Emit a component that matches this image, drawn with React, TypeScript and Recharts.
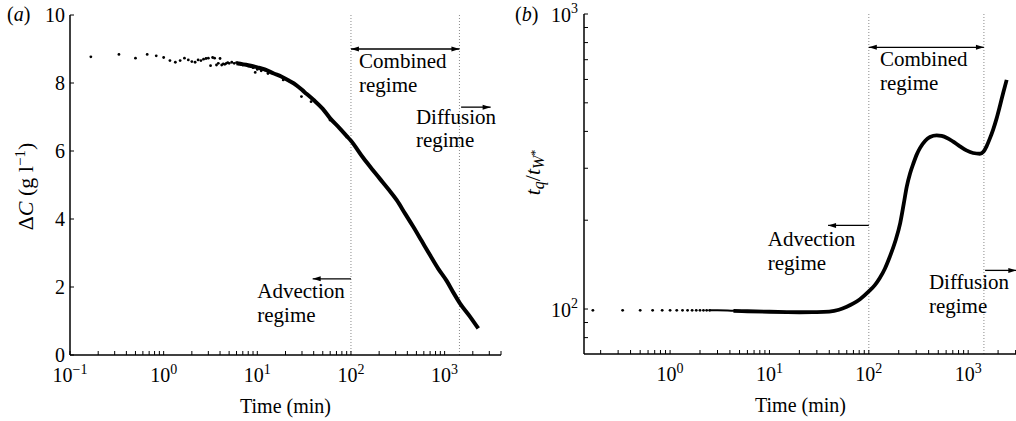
import {
  ComposedChart,
  Line,
  Scatter,
  XAxis,
  YAxis,
  ReferenceLine,
  ReferenceDot,
} from "recharts";

const FONT = "Liberation Serif, Times New Roman, serif";

// ---- panel (a): concentration difference vs time ----
const aDotT = [
  0.167, 0.333, 0.5, 0.667, 0.833, 1.0, 1.167, 1.333, 1.5, 1.667, 1.833, 2.0,
  2.167, 2.333, 2.5, 2.667, 2.833, 3.0, 3.167, 3.333, 3.5, 3.667, 3.833, 4.0,
  4.167, 4.333, 4.5, 4.667, 4.833, 5.0, 5.333, 5.667, 6.0, 6.333, 6.667, 7.0,
  7.5, 8.0, 8.5, 9.0, 9.5, 10.0, 10.5, 11.0, 12.0, 13.0, 18.9, 29.6, 37.5, 59.7,
];
const aDotV = [
  8.77, 8.84, 8.73, 8.84, 8.8, 8.75, 8.66, 8.61, 8.66, 8.73, 8.68, 8.63,
  8.61, 8.68, 8.66, 8.7, 8.72, 8.73, 8.51, 8.75, 8.73, 8.53, 8.58, 8.72,
  8.53, 8.56, 8.55, 8.58, 8.6, 8.58, 8.61, 8.58, 8.6, 8.56, 8.55, 8.53,
  8.55, 8.5, 8.48, 8.45, 8.31, 8.4, 8.44, 8.36, 8.38, 8.28, 8.09, 7.6, 7.45, 6.91,
];
const aLineT = [
  6, 8, 10, 12, 15, 18, 22, 26, 32, 40, 50, 60, 75, 90, 100, 135, 170, 204,
  250, 307, 380, 463, 570, 698, 850, 1052, 1250, 1458, 1866, 2290,
];
const aLineV = [
  8.58, 8.52, 8.46, 8.4, 8.28, 8.19, 8.06, 7.94, 7.73, 7.5, 7.24, 6.96, 6.68,
  6.44, 6.3, 5.8, 5.45, 5.18, 4.88, 4.56, 4.15, 3.77, 3.35, 2.94, 2.55, 2.18,
  1.82, 1.52, 1.13, 0.78,
];
const aXTicks = [
  0.1, 0.2, 0.3, 0.4, 0.5, 0.6, 0.7, 0.8, 0.9, 1, 2, 3, 4, 5, 6, 7, 8, 9, 10,
  20, 30, 40, 50, 60, 70, 80, 90, 100, 200, 300, 400, 500, 600, 700, 800, 900,
  1000, 2000, 3000, 4000,
];
const aYTicks = [0, 2, 4, 6, 8, 10];

// ---- panel (b): t_q / t_W* vs time ----
const bDotT = [
  0.167, 0.333, 0.5, 0.667, 0.833, 1.0, 1.167, 1.333, 1.5, 1.667, 1.833, 2.0,
  2.167, 2.333, 2.5,
];
const bDotV = [99, 99, 99, 99, 99, 99, 99, 99, 99, 99, 99, 99, 99, 99, 99];
const bThinT = [2.5, 3, 4.34, 6];
const bThinV = [99, 99, 98.6, 98.3];
const bLineT = [
  4.34, 6, 10, 15, 20, 30, 40, 50, 60, 70, 81.5, 100, 115, 129, 145, 163, 185,
  207, 225, 241, 260, 282, 305, 328, 370, 413, 482, 540, 612, 700, 826, 960,
  1120, 1310, 1430, 1530, 1650, 1780, 1930, 2080, 2250, 2440,
];
const bLineV = [
  98.6, 98.3, 97.9, 97.6, 97.5, 97.6, 98.0, 99.4, 101.8, 104.5, 108, 114.7,
  120.5, 127.4, 137, 150.7, 170, 195.6, 228, 260, 288, 312.6, 335, 351.6, 372,
  383, 388, 386, 380, 370, 356, 345, 338, 336, 342, 356, 378, 405, 442, 486,
  540, 598,
];
const bXTicks = [
  0.2, 0.3, 0.4, 0.5, 0.6, 0.7, 0.8, 0.9, 1, 2, 3, 4, 5, 6, 7, 8, 9, 10, 20, 30,
  40, 50, 60, 70, 80, 90, 100, 200, 300, 400, 500, 600, 700, 800, 900, 1000,
  2000, 3000,
];
const bYTicks = [80, 90, 100, 200, 300, 400, 500, 600, 700, 800, 900, 1000];

const zip = (ts: number[], vs: number[]) => ts.map((t, i) => ({ t, v: vs[i] }));

const aDots = zip(aDotT, aDotV);
const aLine = zip(aLineT, aLineV);
const bDots = zip(bDotT, bDotV);
const bThin = zip(bThinT, bThinV);
const bLine = zip(bLineT, bLineV);

const isPow10 = (v: number) => Math.abs(Math.log10(v) - Math.round(Math.log10(v))) < 1e-6;
const expText = (v: number) => {
  const e = Math.round(Math.log10(v));
  return e < 0 ? "\u2212" + -e : String(e);
};

const txt = { fontFamily: FONT, fill: "#000" };

const noTick = () => <g />;

const powTickX = (props: any) => {
  const { x, y, payload } = props;
  if (!isPow10(payload.value)) return <g />;
  return (
    <text x={x} y={y + 27} textAnchor="middle" style={txt} fontSize={20}>
      10
      <tspan dy={-8} fontSize={14}>
        {expText(payload.value)}
      </tspan>
    </text>
  );
};

const powTickY = (props: any) => {
  const { x, y, payload } = props;
  if (!isPow10(payload.value)) return <g />;
  return (
    <text x={x} y={y + 8} textAnchor="end" style={txt} fontSize={20}>
      10
      <tspan dy={-9} fontSize={14}>
        {expText(payload.value)}
      </tspan>
    </text>
  );
};

const linTickY = (props: any) => {
  const { x, y, payload } = props;
  return (
    <text x={x} y={y + 7} textAnchor="end" style={txt} fontSize={20}>
      {payload.value}
    </text>
  );
};

const arrowShape = (both: boolean) => (p: any) => {
  const { x1, y1, x2, y2 } = p;
  const len = Math.hypot(x2 - x1, y2 - y1) || 1;
  const ux = (x2 - x1) / len;
  const uy = (y2 - y1) / len;
  const head = (x: number, y: number, dx: number, dy: number) =>
    `${x},${y} ${x - dx * 8 - dy * 2.5},${y - dy * 8 + dx * 2.5} ${x - dx * 8 + dy * 2.5},${y - dy * 8 - dx * 2.5}`;
  return (
    <g>
      <line x1={x1} y1={y1} x2={x2} y2={y2} stroke="#000" strokeWidth={1.3} />
      <polygon points={head(x2, y2, ux, uy)} fill="#000" />
      {both && <polygon points={head(x1, y1, -ux, -uy)} fill="#000" />}
    </g>
  );
};

const noteShape = (label: string) => (p: any) => (
  <text x={p.cx} y={p.cy} style={txt} fontSize={21}>
    {label}
  </text>
);

const smallDot = (p: any) => <circle cx={p.cx} cy={p.cy} r={1.4} fill="#000" />;

const xTitle = (p: any) => {
  const vb = p.viewBox;
  return (
    <text x={vb.x + vb.width / 2} y={vb.y + 58} textAnchor="middle" style={txt} fontSize={20}>
      Time (min)
    </text>
  );
};

const aYTitle = (p: any) => {
  const vb = p.viewBox;
  const cx = vb.x + 26;
  const cy = vb.y + vb.height / 2 + 1.5;
  return (
    <g>
      <text x={vb.x + 7} y={vb.y + 6} style={txt} fontSize={20}>
        (<tspan fontStyle="italic">a</tspan>)
      </text>
      <text x={cx} y={cy + 7} transform={`rotate(-90 ${cx} ${cy})`} textAnchor="middle" style={txt} fontSize={22}>
        Δ<tspan fontStyle="italic">C</tspan>
        <tspan>{"\u00a0(g\u00a0l"}</tspan>
        <tspan dy={-8} fontSize={15}>
          {"\u22121"}
        </tspan>
        <tspan dy={8}>)</tspan>
      </text>
    </g>
  );
};

const bYTitle = (p: any) => {
  const vb = p.viewBox;
  const cx = vb.x + 33;
  const cy = vb.y + 158.5;
  return (
    <g>
      <text x={vb.x + 15} y={vb.y + 7} style={txt} fontSize={20}>
        (<tspan fontStyle="italic">b</tspan>)
      </text>
      <text x={cx} y={cy + 7} transform={`rotate(-90 ${cx} ${cy})`} textAnchor="middle" style={txt} fontSize={22}>
        <tspan fontStyle="italic">t</tspan>
        <tspan fontStyle="italic" fontSize={16} dy={4}>
          q
        </tspan>
        <tspan dy={-4}>/</tspan>
        <tspan fontStyle="italic">t</tspan>
        <tspan fontStyle="italic" fontSize={16} dy={4}>
          W
        </tspan>
        <tspan fontSize={12} dy={-5}>
          *
        </tspan>
      </text>
    </g>
  );
};

const axisLine = { stroke: "#000", strokeWidth: 1.5 };
const tickLine = { stroke: "#000", strokeWidth: 1 };
const dotted = { stroke: "#8a8a8a", strokeDasharray: "1 2", strokeWidth: 1 };

const ChartA = () => (
  <ComposedChart width={520} height={421} margin={{ top: 15, right: 19, bottom: 0, left: 0 }}>
    <XAxis
      xAxisId="b"
      dataKey="t"
      type="number"
      scale="log"
      domain={[0.1, 4000]}
      allowDataOverflow
      ticks={aXTicks}
      interval={0}
      tickSize={-4}
      tickMargin={4}
      tick={powTickX}
      height={66}
      axisLine={axisLine}
      tickLine={tickLine}
      label={{ content: xTitle }}
    />
    <XAxis
      xAxisId="t"
      orientation="top"
      type="number"
      scale="log"
      domain={[0.1, 4000]}
      allowDataOverflow
      ticks={aXTicks}
      interval={0}
      tickSize={-4}
      tick={noTick}
      height={0}
      axisLine={axisLine}
      tickLine={tickLine}
    />
    <YAxis
      yAxisId="l"
      dataKey="v"
      type="number"
      domain={[0, 10]}
      allowDataOverflow
      ticks={aYTicks}
      interval={0}
      tickSize={-4}
      tickMargin={9}
      width={70}
      tick={linTickY}
      axisLine={axisLine}
      tickLine={tickLine}
      label={{ content: aYTitle }}
    />
    <YAxis
      yAxisId="r"
      orientation="right"
      type="number"
      domain={[0, 10]}
      allowDataOverflow
      ticks={aYTicks}
      interval={0}
      tickSize={-4}
      tick={noTick}
      width={0}
      axisLine={axisLine}
      tickLine={tickLine}
    />
    <ReferenceLine xAxisId="b" yAxisId="l" x={100} {...dotted} />
    <ReferenceLine xAxisId="b" yAxisId="l" x={1440} {...dotted} />
    <Scatter xAxisId="b" yAxisId="l" data={aDots} dataKey="v" shape={smallDot} isAnimationActive={false} />
    <Line
      xAxisId="b"
      yAxisId="l"
      data={aLine}
      dataKey="v"
      type="monotone"
      stroke="#000"
      strokeWidth={4}
      dot={false}
      isAnimationActive={false}
    />
    <ReferenceLine xAxisId="b" yAxisId="l" segment={[{ x: 100, y: 9 }, { x: 1440, y: 9 }]} shape={arrowShape(true)} />
    <ReferenceLine xAxisId="b" yAxisId="l" segment={[{ x: 1500, y: 7.29 }, { x: 3100, y: 7.29 }]} shape={arrowShape(false)} />
    <ReferenceLine xAxisId="b" yAxisId="l" segment={[{ x: 100, y: 2.24 }, { x: 39, y: 2.24 }]} shape={arrowShape(false)} />
    <ReferenceDot xAxisId="b" yAxisId="l" x={122} y={8.44} shape={noteShape("Combined")} />
    <ReferenceDot xAxisId="b" yAxisId="l" x={122} y={7.74} shape={noteShape("regime")} />
    <ReferenceDot xAxisId="b" yAxisId="l" x={494} y={6.79} shape={noteShape("Diffusion")} />
    <ReferenceDot xAxisId="b" yAxisId="l" x={494} y={6.12} shape={noteShape("regime")} />
    <ReferenceDot xAxisId="b" yAxisId="l" x={10} y={1.68} shape={noteShape("Advection")} />
    <ReferenceDot xAxisId="b" yAxisId="l" x={10} y={0.97} shape={noteShape("regime")} />
  </ComposedChart>
);

const ChartB = () => (
  <ComposedChart width={527} height={421} margin={{ top: 14, right: 10, bottom: 0, left: 0 }}>
    <XAxis
      xAxisId="b"
      dataKey="t"
      type="number"
      scale="log"
      domain={[0.136, 3100]}
      allowDataOverflow
      ticks={bXTicks}
      interval={0}
      tickSize={-4}
      tickMargin={4}
      tick={powTickX}
      height={67}
      axisLine={axisLine}
      tickLine={tickLine}
      label={{ content: xTitle }}
    />
    <XAxis
      xAxisId="t"
      orientation="top"
      type="number"
      scale="log"
      domain={[0.136, 3100]}
      allowDataOverflow
      ticks={bXTicks}
      interval={0}
      tickSize={-4}
      tick={noTick}
      height={0}
      axisLine={axisLine}
      tickLine={tickLine}
    />
    <YAxis
      yAxisId="l"
      dataKey="v"
      type="number"
      scale="log"
      domain={[70.4, 1000]}
      allowDataOverflow
      ticks={bYTicks}
      interval={0}
      tickSize={-4}
      tickMargin={10}
      width={84}
      tick={powTickY}
      axisLine={axisLine}
      tickLine={tickLine}
      label={{ content: bYTitle }}
    />
    <YAxis
      yAxisId="r"
      orientation="right"
      type="number"
      scale="log"
      domain={[70.4, 1000]}
      allowDataOverflow
      ticks={bYTicks}
      interval={0}
      tickSize={-4}
      tick={noTick}
      width={0}
      axisLine={axisLine}
      tickLine={tickLine}
    />
    <ReferenceLine xAxisId="b" yAxisId="l" x={100} {...dotted} />
    <ReferenceLine xAxisId="b" yAxisId="l" x={1440} {...dotted} />
    <Scatter xAxisId="b" yAxisId="l" data={bDots} dataKey="v" shape={smallDot} isAnimationActive={false} />
    <Line
      xAxisId="b"
      yAxisId="l"
      data={bThin}
      dataKey="v"
      type="monotone"
      stroke="#000"
      strokeWidth={2}
      dot={false}
      isAnimationActive={false}
    />
    <Line
      xAxisId="b"
      yAxisId="l"
      data={bLine}
      dataKey="v"
      type="monotone"
      stroke="#000"
      strokeWidth={3.8}
      dot={false}
      isAnimationActive={false}
    />
    <ReferenceLine xAxisId="b" yAxisId="l" segment={[{ x: 100, y: 771 }, { x: 1440, y: 771 }]} shape={arrowShape(true)} />
    <ReferenceLine xAxisId="b" yAxisId="l" segment={[{ x: 100, y: 192 }, { x: 38.9, y: 192 }]} shape={arrowShape(false)} />
    <ReferenceLine xAxisId="b" yAxisId="l" segment={[{ x: 1480, y: 135.2 }, { x: 3050, y: 135.2 }]} shape={arrowShape(false)} />
    <ReferenceDot xAxisId="b" yAxisId="l" x={129.7} y={668} shape={noteShape("Combined")} />
    <ReferenceDot xAxisId="b" yAxisId="l" x={129.7} y={554} shape={noteShape("regime")} />
    <ReferenceDot xAxisId="b" yAxisId="l" x={9.61} y={163.7} shape={noteShape("Advection")} />
    <ReferenceDot xAxisId="b" yAxisId="l" x={9.61} y={135.9} shape={noteShape("regime")} />
    <ReferenceDot xAxisId="b" yAxisId="l" x={403} y={117.2} shape={noteShape("Diffusion")} />
    <ReferenceDot xAxisId="b" yAxisId="l" x={403} y={97.2} shape={noteShape("regime")} />
  </ComposedChart>
);

export default function App() {
  return (
    <div
      style={{
        position: "absolute",
        left: 0,
        top: 0,
        width: 1016,
        height: 421,
        overflow: "hidden",
        background: "#fff",
        fontFamily: FONT,
      }}
    >
      <div style={{ position: "absolute", left: 0, top: 0 }}>
        <ChartA />
      </div>
      <div style={{ position: "absolute", left: 500, top: 0 }}>
        <ChartB />
      </div>
    </div>
  );
}
